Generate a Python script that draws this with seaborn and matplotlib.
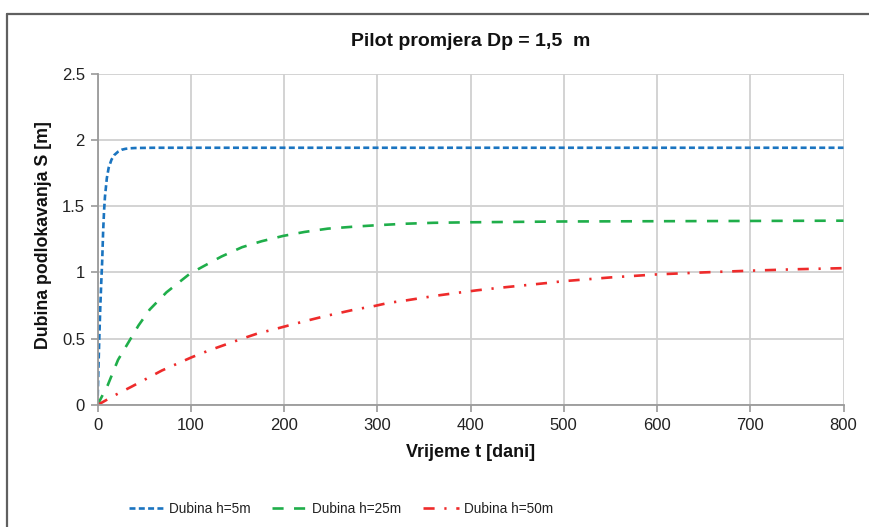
import matplotlib
matplotlib.use("Agg")
import matplotlib.pyplot as plt
from matplotlib.lines import Line2D
import seaborn as sns

# Settlement over time for a pile of diameter Dp = 1.5 m, three depths
t_h5 = [0, 1, 2, 3, 4, 5, 6, 7, 8, 10, 12, 15, 18, 22, 26, 30, 35, 40, 60, 100, 200, 300, 400, 500, 600, 700, 800]
s_h5 = [0, 0.28, 0.52, 0.74, 0.92, 1.08, 1.30, 1.46, 1.57, 1.71, 1.79, 1.85, 1.885, 1.91, 1.925, 1.932, 1.936, 1.938, 1.94, 1.94, 1.94, 1.94, 1.94, 1.94, 1.94, 1.94, 1.94]

t_h25 = [0, 11, 22, 33, 44, 56, 74, 99, 112, 133, 155, 176, 199, 222, 247, 275, 300, 330, 360, 400, 450, 500, 600, 700, 800]
s_h25 = [0, 0.15, 0.34, 0.47, 0.60, 0.72, 0.85, 0.99, 1.04, 1.12, 1.19, 1.235, 1.275, 1.305, 1.33, 1.345, 1.356, 1.367, 1.374, 1.378, 1.381, 1.384, 1.386, 1.388, 1.39]

t_h50 = [0, 19, 37, 53, 69, 85, 101, 119, 137, 155, 172, 189, 205, 224, 244, 260, 276, 296, 312, 332, 350, 367, 387, 407, 426, 444, 464, 482, 500, 550, 600, 650, 700, 750, 800]
s_h50 = [0, 0.075, 0.14, 0.20, 0.26, 0.31, 0.36, 0.41, 0.455, 0.50, 0.54, 0.57, 0.60, 0.635, 0.67, 0.695, 0.72, 0.745, 0.77, 0.79, 0.81, 0.828, 0.847, 0.865, 0.88, 0.893, 0.907, 0.92, 0.934, 0.962, 0.985, 1.0, 1.013, 1.024, 1.032]

series_labels = ["Dubina h=5m", "Dubina h=25m", "Dubina h=50m"]
x_ticks = [0, 100, 200, 300, 400, 500, 600, 700, 800]
y_ticks = [0, 0.5, 1, 1.5, 2, 2.5]
y_tick_labels = ["0", "0.5", "1", "1.5", "2", "2.5"]

sns.set_theme(style="white")
plt.rcParams["font.family"] = ["Liberation Sans", "DejaVu Sans"]
plt.rcParams["lines.scale_dashes"] = False

fig = plt.figure(figsize=(8.69, 5.27), dpi=100)
fig.patch.set_facecolor("white")
ax = fig.add_axes([97.5 / 869, 1 - 405 / 527, (843.5 - 97.5) / 869, (405 - 73.5) / 527])

colors = ["#1a74c0", "#1fae4a", "#ee2b2b"]
dash_specs = [(4.3, 2.4), (8.0, 7.5), (8.0, 7.0, 1.6, 7.0)]
series = [(t_h5, s_h5), (t_h25, s_h25), (t_h50, s_h50)]

for (tx, sy), lab, col, dsh in zip(series, series_labels, colors, dash_specs):
    sns.lineplot(x=tx, y=sy, ax=ax, color=col, linewidth=1.9, label=lab, sort=False)
    ax.lines[-1].set_dashes(dsh)

ax.set_xlim(0, 800)
ax.set_ylim(0, 2.5)
ax.set_xticks(x_ticks)
ax.set_xticklabels([str(v) for v in x_ticks])
ax.set_yticks(y_ticks)
ax.set_yticklabels(y_tick_labels)

ax.grid(True, color="#d0d0d0", linewidth=1.3)
ax.set_axisbelow(True)
for side in ["top", "right"]:
    ax.spines[side].set_visible(False)
for side in ["left", "bottom"]:
    ax.spines[side].set_color("#9a9a9a")
    ax.spines[side].set_linewidth(1.3)

ax.tick_params(axis="both", which="major", direction="out", length=5, width=1.2,
               color="#9a9a9a", labelsize=12, labelcolor="#222222", pad=4,
               left=True, bottom=True)

ax.set_xlabel("Vrijeme t [dani]", fontsize=13, fontweight="bold", color="#111111", labelpad=8)
ax.set_ylabel("Dubina podlokavanja S [m]", fontsize=12.8, fontweight="bold", color="#111111")
ax.yaxis.set_label_coords(-0.061, 0.513)
ax.set_title("Pilot promjera Dp = 1,5  m", fontsize=14, fontweight="bold", color="#111111", pad=20)

leg = ax.legend(loc="upper center", bbox_to_anchor=(0.326, -0.255), ncol=3, frameon=False,
                fontsize=9.8, handlelength=2.6, handletextpad=0.35, columnspacing=1.6)
for txt in leg.get_texts():
    txt.set_color("#222222")

# outer frame lines along the top and left edges
fig.add_artist(Line2D([7.5 / 869, 1.0], [1 - 13.5 / 527, 1 - 13.5 / 527], transform=fig.transFigure,
                      color="#606060", linewidth=1.6))
fig.add_artist(Line2D([7.5 / 869, 7.5 / 869], [0.0, 1 - 13.5 / 527], transform=fig.transFigure,
                      color="#606060", linewidth=1.6))

fig.savefig("out.png", dpi=100, facecolor="white")
